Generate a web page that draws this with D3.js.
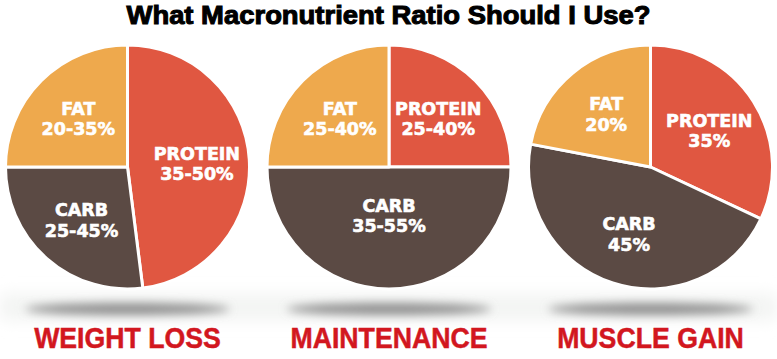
<!DOCTYPE html>
<html>
<head>
<meta charset="utf-8">
<script src="https://cdn.jsdelivr.net/npm/d3@7"></script>
<style>
  body { margin: 0; background: #fff; }
  svg { display: block; }
</style>
</head>
<body>
<svg id="chart" width="777" height="359"></svg>
<script>
// values
let title = "What Macronutrient Ratio Should I Use?";
let plans = ["WEIGHT LOSS", "MAINTENANCE", "MUSCLE GAIN"];
let nutrients = ["PROTEIN", "CARB", "FAT"];
// share of each pie as drawn, order follows nutrients
let shares = [
  [48, 27, 25],
  [25, 50, 25],
  [32, 46, 22]
];
let rangeLabels = [
  ["35-50%", "25-45%", "20-35%"],
  ["25-40%", "35-55%", "25-40%"],
  ["35%", "45%", "20%"]
];

let width = 777;
let height = 359;
let radius = 122;
let cy = 167;

let colors = d3.scaleOrdinal()
  .domain(nutrients)
  .range(['#e05741', '#5b4a44', '#eea94d']);

let x = d3.scalePoint()
  .domain(plans)
  .range([127.5, 650.5]);

let svg = d3.select('#chart');

let defs = svg.append('defs');
defs.append('filter')
  .attr('id', 'blur')
  .attr('x', '-50%').attr('y', '-200%')
  .attr('width', '200%').attr('height', '500%')
  .append('feGaussianBlur')
  .attr('stdDeviation', 5);
defs.append('filter')
  .attr('id', 'blurBig')
  .attr('x', '-10%').attr('y', '-100%')
  .attr('width', '120%').attr('height', '300%')
  .append('feGaussianBlur')
  .attr('stdDeviation', 8);

// faint floor band
svg.append('rect')
  .attr('x', 0).attr('y', 294)
  .attr('width', width).attr('height', 26)
  .attr('fill', '#f3f4f3')
  .attr('filter', 'url(#blurBig)');

// title
svg.append('text')
  .attr('x', width / 2)
  .attr('y', 24)
  .attr('text-anchor', 'middle')
  .attr('font-family', 'Liberation Sans, Arial, sans-serif')
  .attr('font-weight', 'bold')
  .attr('font-size', 25)
  .attr('textLength', 524)
  .attr('lengthAdjust', 'spacingAndGlyphs')
  .attr('fill', '#000')
  .attr('stroke', '#000')
  .attr('stroke-width', 1)
  .text(title);

let pie = d3.pie().sort(null).value(d => d.value);
let arc = d3.arc().innerRadius(0).outerRadius(radius);

plans.forEach((plan, i) => {
  let cx = x(plan);
  let data = nutrients.map((n, j) => ({
    name: n,
    value: shares[i][j],
    label: rangeLabels[i][j]
  }));

  // shadow under the pie
  svg.append('ellipse')
    .attr('cx', cx)
    .attr('cy', 309)
    .attr('rx', 102)
    .attr('ry', 6)
    .attr('fill', '#8f8f8f')
    .attr('filter', 'url(#blur)');

  let g = svg.append('g')
    .attr('transform', `translate(${cx},${cy})`);

  let slices = pie(data);

  g.selectAll('path')
    .data(slices)
    .enter()
    .append('path')
    .attr('d', arc)
    .attr('fill', d => colors(d.data.name))
    .attr('stroke', '#fff')
    .attr('stroke-width', 3)
    .attr('stroke-linejoin', 'round');

  let labels = g.selectAll('text.label')
    .data(slices)
    .enter()
    .append('text')
    .attr('class', 'label')
    .attr('text-anchor', 'middle')
    .attr('font-family', 'DejaVu Sans, Verdana, sans-serif')
    .attr('font-weight', 'bold')
    .attr('font-size', 17.5)
    .attr('fill', '#fff')
    .attr('stroke', '#fff')
    .attr('stroke-width', 0.6)
    .attr('transform', d => {
      let k = d.data.value >= 50 ? 0.39 : 0.57;
      let a = (d.startAngle + d.endAngle) / 2;
      let lx = Math.sin(a) * radius * k;
      let ly = -Math.cos(a) * radius * k;
      return `translate(${lx},${ly})`;
    });

  labels.append('tspan')
    .attr('x', 0)
    .attr('y', -3)
    .text(d => d.data.name);

  labels.append('tspan')
    .attr('x', 0)
    .attr('y', 17.5)
    .text(d => d.data.label);

  // plan name under the pie
  svg.append('text')
    .attr('transform', `translate(${cx},348) scale(0.92,1)`)
    .attr('text-anchor', 'middle')
    .attr('font-family', 'Liberation Sans, Arial, sans-serif')
    .attr('font-weight', 'bold')
    .attr('font-size', 29)
    .attr('fill', '#d2171f')
    .attr('stroke', '#d2171f')
    .attr('stroke-width', 0.5)
    .text(plan);
});
</script>
</body>
</html>
